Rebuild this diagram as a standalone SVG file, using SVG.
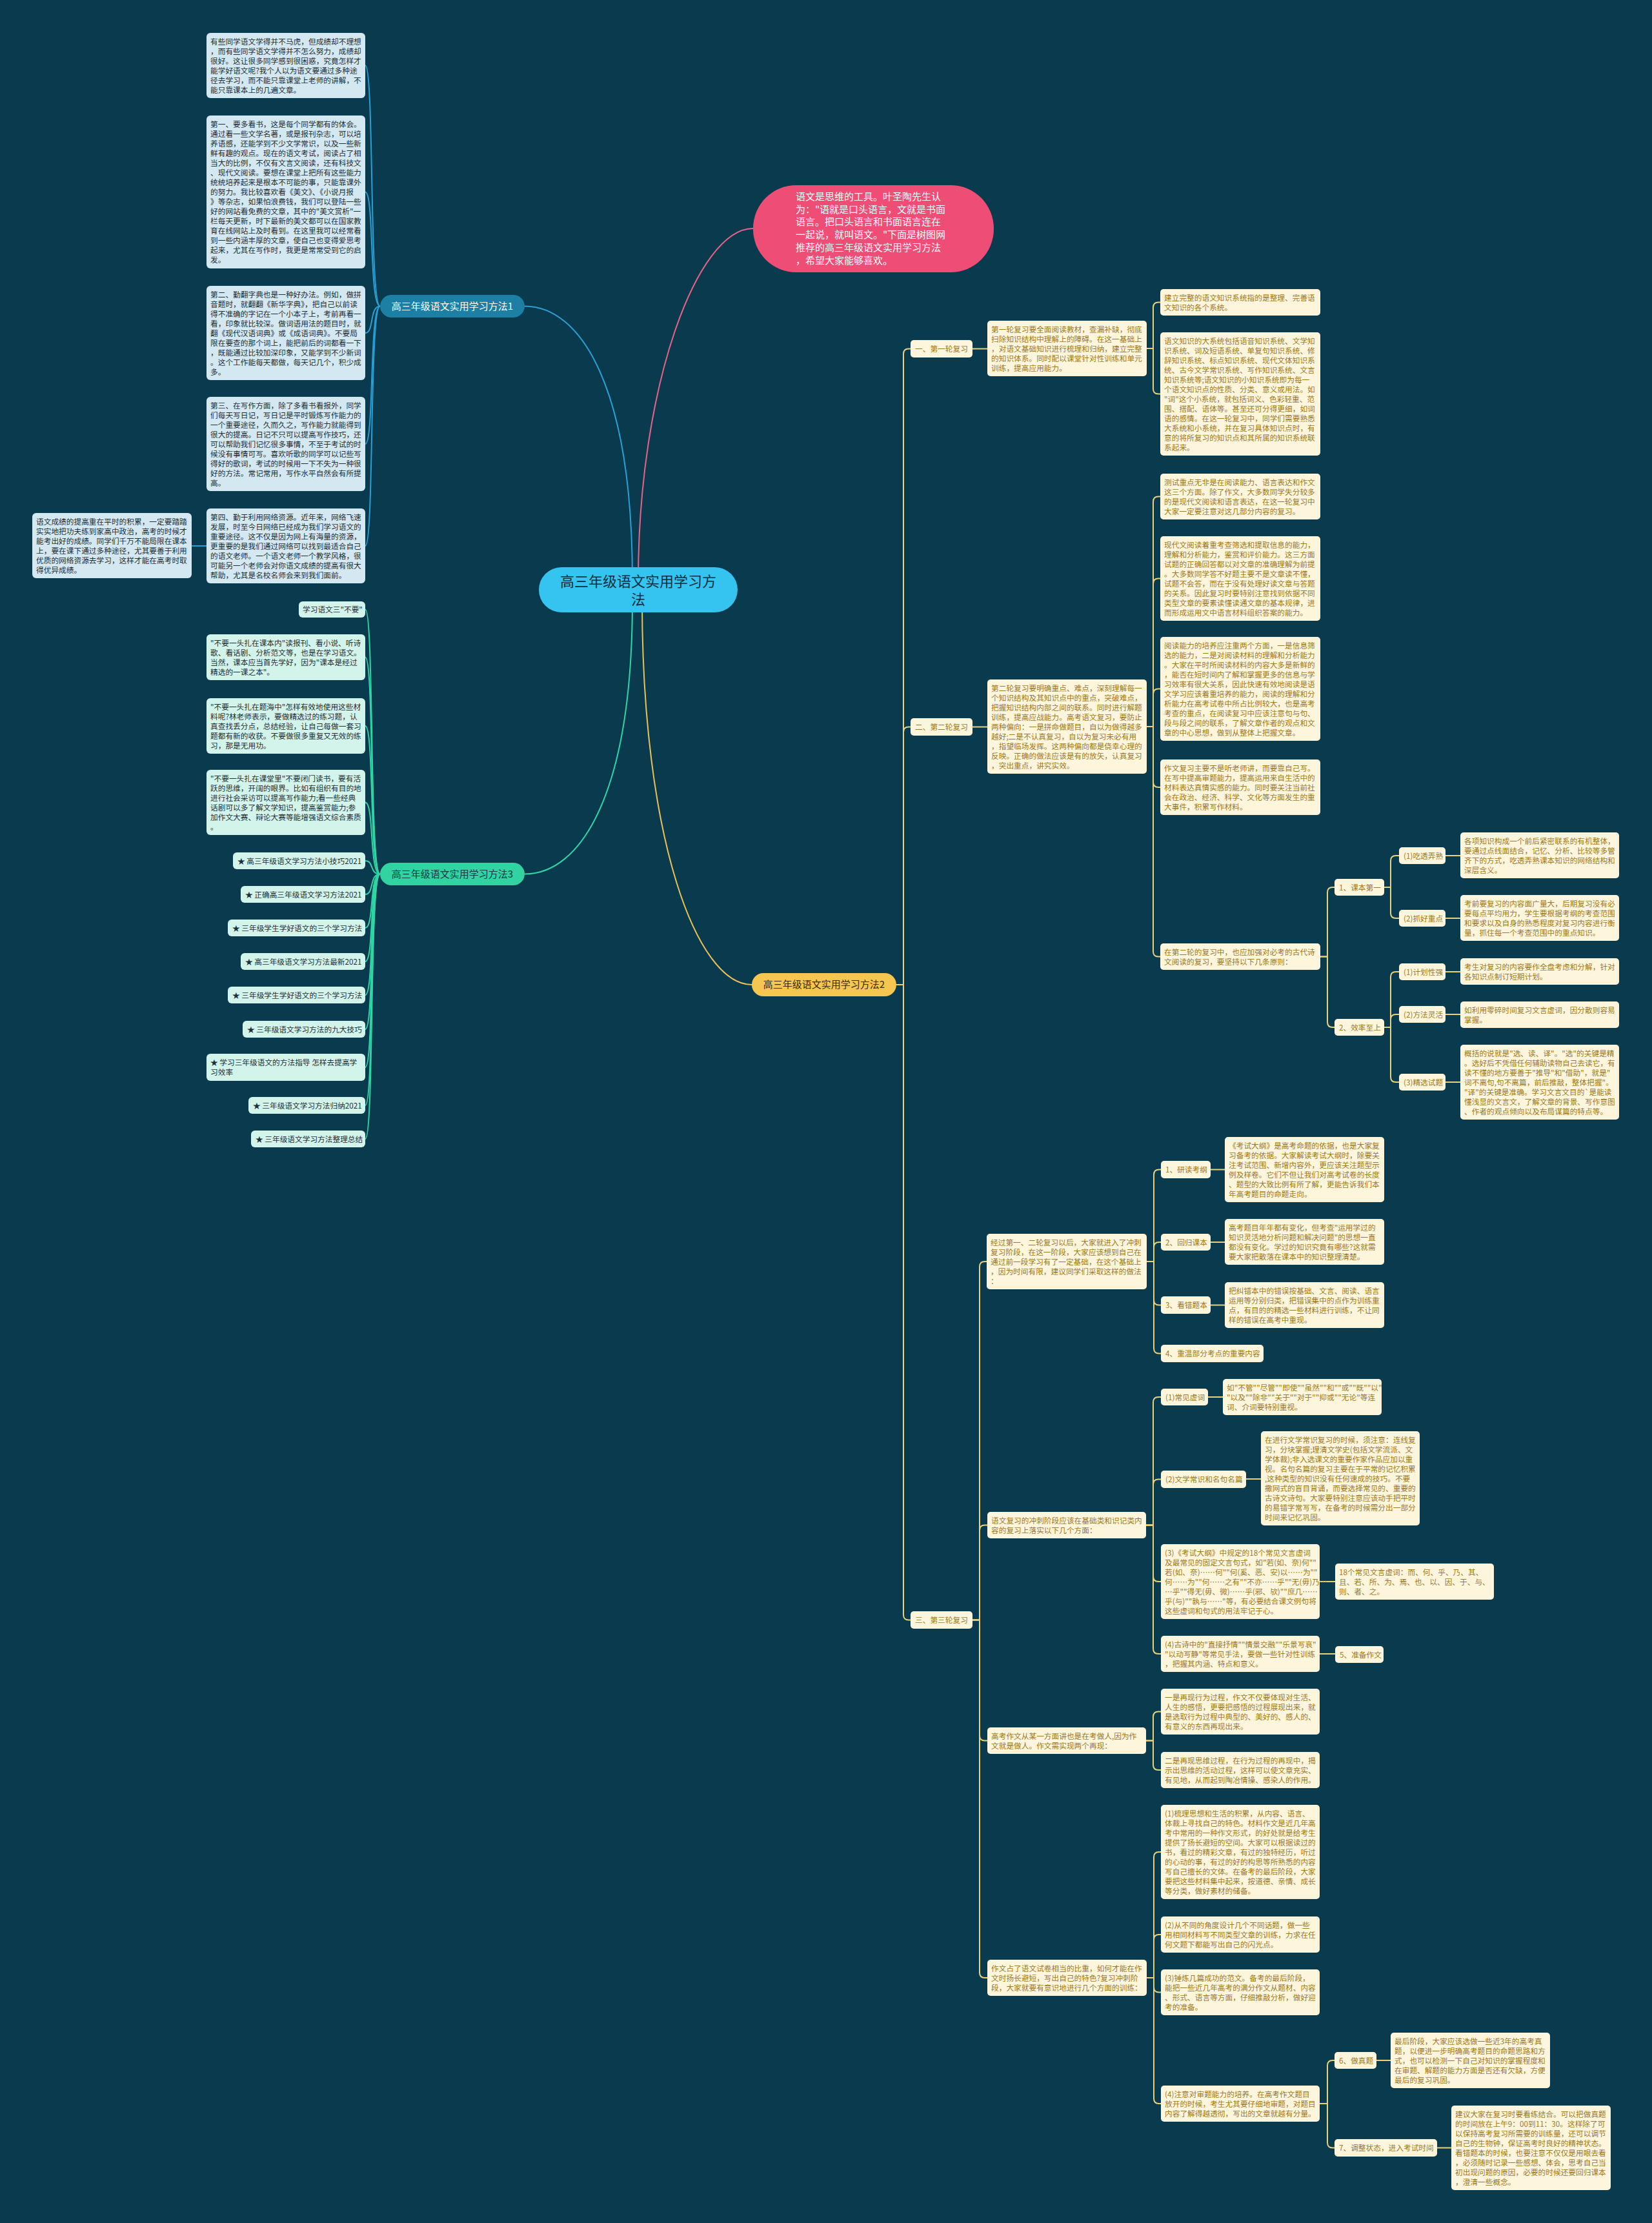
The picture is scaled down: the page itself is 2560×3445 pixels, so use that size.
<svg xmlns="http://www.w3.org/2000/svg" width="2560" height="3445" viewBox="0 0 2560 3445">
<style>
text{font-family:"Noto Sans CJK SC","Noto Sans",sans-serif;}
.ct{font-size:11.7px;fill:#a0781c;}
.lt{font-size:11.7px;fill:#1f2f38;}
.cb{fill:#fdf6dc;}
.lb{fill:#d3e8f0;}
.lg{fill:#d3f4eb;}
.cy{fill:none;stroke:#e9d27c;stroke-width:2;}
.cbl{fill:none;stroke:#2a9fd4;stroke-width:2;}
.cgr{fill:none;stroke:#2fd5a5;stroke-width:2;}
</style>
<rect width="2560" height="3445" fill="#0a3a4d"/>
<g id="connectors">
<path d="M989 900 C989 600 1080 354 1167 354" fill="none" stroke="#e8638a" stroke-width="2"/>
<path d="M980 900 C980 600 900 474.5 813 474.5" class="cbl"/>
<path d="M980 930 C980 1230 900 1354.5 813 1354.5" class="cgr"/>
<path d="M995 930 C995 1300 1080 1526 1165 1526" fill="none" stroke="#e9c35a" stroke-width="2"/>
<path class="cbl" d="M589 474.5 C572 474.5 580 101.5 566 101.5"/>
<path class="cbl" d="M589 474.5 C572 474.5 580 297.5 566 297.5"/>
<path class="cbl" d="M589 474.5 C572 474.5 580 516 566 516"/>
<path class="cbl" d="M589 474.5 C572 474.5 580 688 566 688"/>
<path class="cbl" d="M589 474.5 C572 474.5 580 846 566 846"/>
<path class="cbl" d="M297 846 H320"/>
<path class="cgr" d="M589 1354.5 C572 1354.5 580 944.5 566 944.5"/>
<path class="cgr" d="M589 1354.5 C572 1354.5 580 1018.5 566 1018.5"/>
<path class="cgr" d="M589 1354.5 C572 1354.5 580 1125 566 1125"/>
<path class="cgr" d="M589 1354.5 C572 1354.5 580 1243.5 566 1243.5"/>
<path class="cgr" d="M589 1354.5 C572 1354.5 580 1334 566 1334"/>
<path class="cgr" d="M589 1354.5 C572 1354.5 580 1386 566 1386"/>
<path class="cgr" d="M589 1354.5 C572 1354.5 580 1438 566 1438"/>
<path class="cgr" d="M589 1354.5 C572 1354.5 580 1490 566 1490"/>
<path class="cgr" d="M589 1354.5 C572 1354.5 580 1542 566 1542"/>
<path class="cgr" d="M589 1354.5 C572 1354.5 580 1595 566 1595"/>
<path class="cgr" d="M589 1354.5 C572 1354.5 580 1654 566 1654"/>
<path class="cgr" d="M589 1354.5 C572 1354.5 580 1713 566 1713"/>
<path class="cgr" d="M589 1354.5 C572 1354.5 580 1765 566 1765"/>
<path class="cy" d="M1389 1526 H1400 V548.5 Q1400 540.5 1408 540.5 H1411"/>
<path class="cy" d="M1389 1526 H1400 V1134.5 Q1400 1126.5 1408 1126.5 H1411"/>
<path class="cy" d="M1389 1526 H1400 V2502.5 Q1400 2510.5 1408 2510.5 H1411"/>
<path class="cy" d="M1507 540.5 H1530"/>
<path class="cy" d="M1777 540 H1787 V476.5 Q1787 468.5 1795 468.5 H1798"/>
<path class="cy" d="M1777 540 H1787 V602.5 Q1787 610.5 1795 610.5 H1798"/>
<path class="cy" d="M1507 1126.5 H1530"/>
<path class="cy" d="M1777 1126 H1787 V777.5 Q1787 769.5 1795 769.5 H1798"/>
<path class="cy" d="M1777 1126 H1787 V904.5 Q1787 896.5 1795 896.5 H1798"/>
<path class="cy" d="M1777 1126 H1787 V1075.5 Q1787 1067.5 1795 1067.5 H1798"/>
<path class="cy" d="M1777 1126 H1787 V1212 Q1787 1220 1795 1220 H1798"/>
<path class="cy" d="M1777 1126 H1787 V1474.5 Q1787 1482.5 1795 1482.5 H1798"/>
<path class="cy" d="M2046 1482.5 H2057 V1383 Q2057 1375 2065 1375 H2068"/>
<path class="cy" d="M2046 1482.5 H2057 V1584 Q2057 1592 2065 1592 H2068"/>
<path class="cy" d="M2145 1375 H2155 V1334 Q2155 1326 2163 1326 H2168"/>
<path class="cy" d="M2145 1375 H2155 V1415 Q2155 1423 2163 1423 H2168"/>
<path class="cy" d="M2145 1592 H2155 V1514 Q2155 1506 2163 1506 H2168"/>
<path class="cy" d="M2145 1592 H2155 V1580 Q2155 1572 2163 1572 H2168"/>
<path class="cy" d="M2145 1592 H2155 V1669 Q2155 1677 2163 1677 H2168"/>
<path class="cy" d="M2240 1326 H2263"/>
<path class="cy" d="M2240 1423 H2263"/>
<path class="cy" d="M2240 1506 H2263"/>
<path class="cy" d="M2240 1572 H2263"/>
<path class="cy" d="M2240 1677 H2263"/>
<path class="cy" d="M1507 2510.5 H1518 V1963 Q1518 1955 1526 1955 H1529"/>
<path class="cy" d="M1507 2510.5 H1518 V2371.5 Q1518 2363.5 1526 2363.5 H1530"/>
<path class="cy" d="M1507 2510.5 H1518 V2689.5 Q1518 2697.5 1526 2697.5 H1530"/>
<path class="cy" d="M1507 2510.5 H1518 V3057 Q1518 3065 1526 3065 H1530"/>
<path class="cy" d="M1777 1955 H1788 V1820.5 Q1788 1812.5 1796 1812.5 H1799"/>
<path class="cy" d="M1777 1955 H1788 V1933 Q1788 1925 1796 1925 H1799"/>
<path class="cy" d="M1777 1955 H1788 V2014.5 Q1788 2022.5 1796 2022.5 H1799"/>
<path class="cy" d="M1777 1955 H1788 V2089.5 Q1788 2097.5 1796 2097.5 H1799"/>
<path class="cy" d="M1876 1812.5 H1898"/>
<path class="cy" d="M1876 1925 H1898"/>
<path class="cy" d="M1876 2022.5 H1898"/>
<path class="cy" d="M1776 2363.5 H1787 V2173 Q1787 2165 1795 2165 H1799"/>
<path class="cy" d="M1776 2363.5 H1787 V2300.5 Q1787 2292.5 1795 2292.5 H1799"/>
<path class="cy" d="M1776 2363.5 H1787 V2443 Q1787 2451 1795 2451 H1799"/>
<path class="cy" d="M1776 2363.5 H1787 V2555 Q1787 2563 1795 2563 H1799"/>
<path class="cy" d="M1872 2165 H1895"/>
<path class="cy" d="M1931 2292 H1954"/>
<path class="cy" d="M2045 2451 H2069"/>
<path class="cy" d="M2045 2563 H2069"/>
<path class="cy" d="M1776 2697.5 H1787 V2660.5 Q1787 2652.5 1795 2652.5 H1799"/>
<path class="cy" d="M1776 2697.5 H1787 V2735 Q1787 2743 1795 2743 H1799"/>
<path class="cy" d="M1777 3065 H1788 V2878 Q1788 2870 1796 2870 H1799"/>
<path class="cy" d="M1777 3065 H1788 V3006 Q1788 2998 1796 2998 H1799"/>
<path class="cy" d="M1777 3065 H1788 V3079.5 Q1788 3087.5 1796 3087.5 H1799"/>
<path class="cy" d="M1777 3065 H1788 V3252 Q1788 3260 1796 3260 H1799"/>
<path class="cy" d="M2045 3260 H2057 V3201 Q2057 3193 2065 3193 H2068"/>
<path class="cy" d="M2045 3260 H2057 V3320.5 Q2057 3328.5 2065 3328.5 H2068"/>
<path class="cy" d="M2133 3193 H2155"/>
<path class="cy" d="M2227 3328.5 H2249"/>
</g>
<g id="center"><rect x="835" y="879" width="308" height="70" rx="35" fill="#35c3f0"/><text x="989" y="909" font-size="22" fill="#0b2f40" text-anchor="middle"><tspan x="989">高三年级语文实用学习方</tspan><tspan x="989" dy="28">法</tspan></text></g>
<g id="intro"><rect x="1167" y="287" width="373" height="135" rx="67" fill="#ee4d76"/><text x="1233" y="310" font-size="15" fill="#ffffff"><tspan x="1233">语文是思维的工具。叶圣陶先生认</tspan><tspan x="1233" dy="19.7">为："语就是口头语言，文就是书面</tspan><tspan x="1233" dy="19.7">语言。把口头语言和书面语言连在</tspan><tspan x="1233" dy="19.7">一起说，就叫语文。"下面是树图网</tspan><tspan x="1233" dy="19.7">推荐的高三年级语文实用学习方法</tspan><tspan x="1233" dy="19.7">，希望大家能够喜欢。</tspan></text></g>
<g id="branch1"><rect x="589" y="457" width="224" height="35" rx="17.5" fill="#1c7fa3"/><text x="701" y="480" font-size="15" fill="#ffffff" text-anchor="middle">高三年级语文实用学习方法1</text></g>
<g id="branch3"><rect x="589" y="1337" width="224" height="35" rx="17.5" fill="#31d3a0"/><text x="701" y="1360" font-size="15" fill="#0b3a4d" text-anchor="middle">高三年级语文实用学习方法3</text></g>
<g id="branch2"><rect x="1165" y="1508" width="224" height="36" rx="18" fill="#f5c650"/><text x="1277" y="1531" font-size="15" fill="#3a2c05" text-anchor="middle">高三年级语文实用学习方法2</text></g>

<g id="b1-a"><rect class="lb" x="320" y="51" width="246" height="101" rx="6"/><text class="lt" x="326" y="68.5"><tspan x="326">有些同学语文学得并不马虎，但成绩却不理想</tspan><tspan x="326" dy="15">，而有些同学语文学得并不怎么努力，成绩却</tspan><tspan x="326" dy="15">很好。这让很多同学感到很困惑，究竟怎样才</tspan><tspan x="326" dy="15">能学好语文呢?我个人以为语文要通过多种途</tspan><tspan x="326" dy="15">径去学习，而不能只靠课堂上老师的讲解，不</tspan><tspan x="326" dy="15">能只靠课本上的几遍文章。</tspan></text></g>
<g id="b1-b"><rect class="lb" x="320" y="179" width="246" height="237" rx="6"/><text class="lt" x="326" y="196.5"><tspan x="326">第一、要多看书，这是每个同学都有的体会。</tspan><tspan x="326" dy="15">通过看一些文学名著，或是报刊杂志，可以培</tspan><tspan x="326" dy="15">养语感，还能学到不少文学常识，以及一些新</tspan><tspan x="326" dy="15">鲜有趣的观点。现在的语文考试，阅读占了相</tspan><tspan x="326" dy="15">当大的比例，不仅有文言文阅读，还有科技文</tspan><tspan x="326" dy="15">、现代文阅读。要想在课堂上把所有这些能力</tspan><tspan x="326" dy="15">统统培养起来是根本不可能的事，只能靠课外</tspan><tspan x="326" dy="15">的努力。我比较喜欢看《美文》、《小说月报</tspan><tspan x="326" dy="15">》等杂志，如果怕浪费钱，我们可以登陆一些</tspan><tspan x="326" dy="15">好的网站看免费的文章，其中的"美文赏析"一</tspan><tspan x="326" dy="15">栏每天更新，时下最新的美文都可以在国家教</tspan><tspan x="326" dy="15">育在线网站上及时看到。在这里我可以经常看</tspan><tspan x="326" dy="15">到一些内涵丰厚的文章，使自己也变得爱思考</tspan><tspan x="326" dy="15">起来，尤其在写作时，我更是常常受到它的启</tspan><tspan x="326" dy="15">发。</tspan></text></g>
<g id="b1-c"><rect class="lb" x="320" y="443" width="246" height="146" rx="6"/><text class="lt" x="326" y="460.5"><tspan x="326">第二、勤翻字典也是一种好办法。例如，做拼</tspan><tspan x="326" dy="15">音题时，就翻翻《新华字典》，把自己以前读</tspan><tspan x="326" dy="15">得不准确的字记在一个小本子上，考前再看一</tspan><tspan x="326" dy="15">看，印象就比较深。做词语用法的题目时，就</tspan><tspan x="326" dy="15">翻《现代汉语词典》或《成语词典》。不要局</tspan><tspan x="326" dy="15">限在要查的那个词上，能把前后的词都看一下</tspan><tspan x="326" dy="15">，既能通过比较加深印象，又能学到不少新词</tspan><tspan x="326" dy="15">。这个工作能每天都做，每天记几个，积少成</tspan><tspan x="326" dy="15">多。</tspan></text></g>
<g id="b1-d"><rect class="lb" x="320" y="615" width="246" height="146" rx="6"/><text class="lt" x="326" y="632.5"><tspan x="326">第三、在写作方面，除了多看书看报外，同学</tspan><tspan x="326" dy="15">们每天写日记，写日记是平时锻炼写作能力的</tspan><tspan x="326" dy="15">一个重要途径，久而久之，写作能力就能得到</tspan><tspan x="326" dy="15">很大的提高。日记不只可以提高写作技巧，还</tspan><tspan x="326" dy="15">可以帮助我们记忆很多事情，不至于考试的时</tspan><tspan x="326" dy="15">候没有事情可写。喜欢听歌的同学可以记些写</tspan><tspan x="326" dy="15">得好的歌词，考试的时候用一下不失为一种很</tspan><tspan x="326" dy="15">好的方法。常记常用，写作水平自然会有所提</tspan><tspan x="326" dy="15">高。</tspan></text></g>
<g id="b1-e"><rect class="lb" x="320" y="788" width="246" height="116" rx="6"/><text class="lt" x="326" y="805.5"><tspan x="326">第四、勤于利用网络资源。近年来，网络飞速</tspan><tspan x="326" dy="15">发展，时至今日网络已经成为我们学习语文的</tspan><tspan x="326" dy="15">重要途径。这不仅是因为网上有海量的资源，</tspan><tspan x="326" dy="15">更重要的是我们通过网络可以找到最适合自己</tspan><tspan x="326" dy="15">的语文老师。一个语文老师一个教学风格，很</tspan><tspan x="326" dy="15">可能另一个老师会对你语文成绩的提高有很大</tspan><tspan x="326" dy="15">帮助，尤其是名校名师会来到我们面前。</tspan></text></g>
<g id="b1-s"><rect class="lb" x="50" y="795" width="247" height="101" rx="6"/><text class="lt" x="56" y="812.5"><tspan x="56">语文成绩的提高重在平时的积累，一定要踏踏</tspan><tspan x="56" dy="15">实实地把功夫练到家高中政治，高考的时候才</tspan><tspan x="56" dy="15">能考出好的成绩。同学们千万不能局限在课本</tspan><tspan x="56" dy="15">上，要在课下通过多种途径，尤其要善于利用</tspan><tspan x="56" dy="15">优质的网络资源去学习，这样才能在高考时取</tspan><tspan x="56" dy="15">得优异成绩。</tspan></text></g>

<g id="b3-n0"><rect class="lg" x="463" y="932" width="103" height="25" rx="6"/><text class="lt" x="469" y="949">学习语文三"不要"</text></g>
<g id="b3-1"><rect class="lg" x="320" y="983" width="246" height="71" rx="6"/><text class="lt" x="326" y="1000.5"><tspan x="326">"不要一头扎在课本内"读报刊、看小说、听诗</tspan><tspan x="326" dy="15">歌、看话剧、分析范文等，也是在学习语文。</tspan><tspan x="326" dy="15">当然，课本应当首先学好，因为"课本是经过</tspan><tspan x="326" dy="15">精选的一课之本"。</tspan></text></g>
<g id="b3-2"><rect class="lg" x="320" y="1082" width="246" height="86" rx="6"/><text class="lt" x="326" y="1099.5"><tspan x="326">"不要一头扎在题海中"怎样有效地使用这些材</tspan><tspan x="326" dy="15">料呢?林老师表示，要做精选过的练习题，认</tspan><tspan x="326" dy="15">真查找丢分点，总结经验，让自己每做一套习</tspan><tspan x="326" dy="15">题都有新的收获。不要做很多重复又无效的练</tspan><tspan x="326" dy="15">习，那是无用功。</tspan></text></g>
<g id="b3-3"><rect class="lg" x="320" y="1193" width="246" height="101" rx="6"/><text class="lt" x="326" y="1210.5"><tspan x="326">"不要一头扎在课堂里"不要闭门读书，要有活</tspan><tspan x="326" dy="15">跃的思维，开阔的眼界。比如有组织有目的地</tspan><tspan x="326" dy="15">进行社会采访可以提高写作能力;看一些经典</tspan><tspan x="326" dy="15">话剧可以多了解文学知识，提高鉴赏能力;参</tspan><tspan x="326" dy="15">加作文大赛、辩论大赛等能增强语文综合素质</tspan><tspan x="326" dy="15">。</tspan></text></g>
<g id="b3-l1"><rect class="lg" x="361" y="1321" width="205" height="26" rx="6"/><text class="lt" x="368" y="1339">★ 高三年级语文学习方法小技巧2021</text></g>
<g id="b3-l2"><rect class="lg" x="373" y="1373" width="193" height="26" rx="6"/><text class="lt" x="380" y="1391">★ 正确高三年级语文学习方法2021</text></g>
<g id="b3-l3"><rect class="lg" x="353" y="1425" width="213" height="26" rx="6"/><text class="lt" x="360" y="1443">★ 三年级学生学好语文的三个学习方法</text></g>
<g id="b3-l4"><rect class="lg" x="373" y="1477" width="193" height="26" rx="6"/><text class="lt" x="380" y="1495">★ 高三年级语文学习方法最新2021</text></g>
<g id="b3-l5"><rect class="lg" x="353" y="1529" width="213" height="26" rx="6"/><text class="lt" x="360" y="1547">★ 三年级学生学好语文的三个学习方法</text></g>
<g id="b3-l6"><rect class="lg" x="376" y="1582" width="190" height="26" rx="6"/><text class="lt" x="383" y="1600">★ 三年级语文学习方法的九大技巧</text></g>
<g id="b3-l7"><rect class="lg" x="320" y="1633" width="246" height="42" rx="6"/><text class="lt" x="326" y="1650.5"><tspan x="326">★ 学习三年级语文的方法指导 怎样去提高学</tspan><tspan x="326" dy="15">习效率</tspan></text></g>
<g id="b3-l8"><rect class="lg" x="385" y="1700" width="181" height="26" rx="6"/><text class="lt" x="392" y="1718">★ 三年级语文学习方法归纳2021</text></g>
<g id="b3-l9"><rect class="lg" x="389" y="1752" width="177" height="26" rx="6"/><text class="lt" x="396" y="1770">★ 三年级语文学习方法整理总结</text></g>

<g id="r1"><rect class="cb" x="1411" y="527" width="96" height="27" rx="5"/><text class="ct" x="1418" y="545">一、第一轮复习</text></g>
<g id="r2"><rect class="cb" x="1411" y="1113" width="96" height="27" rx="5"/><text class="ct" x="1418" y="1131">二、第二轮复习</text></g>
<g id="r3"><rect class="cb" x="1411" y="2497" width="96" height="27" rx="5"/><text class="ct" x="1418" y="2515">三、第三轮复习</text></g>

<g id="p1"><rect class="cb" x="1530" y="497" width="247" height="86" rx="5"/><text class="ct" x="1536" y="514.5"><tspan x="1536">第一轮复习要全面阅读教材，查漏补缺，彻底</tspan><tspan x="1536" dy="15">扫除知识结构中理解上的障碍。在这一基础上</tspan><tspan x="1536" dy="15">，对语文基础知识进行梳理和归纳，建立完整</tspan><tspan x="1536" dy="15">的知识体系。同时配以课堂针对性训练和单元</tspan><tspan x="1536" dy="15">训练，提高应用能力。</tspan></text></g>
<g id="c1"><rect class="cb" x="1798" y="448" width="248" height="41" rx="5"/><text class="ct" x="1804" y="465.5"><tspan x="1804">建立完整的语文知识系统指的是整理、完善语</tspan><tspan x="1804" dy="15">文知识的各个系统。</tspan></text></g>
<g id="c2"><rect class="cb" x="1798" y="515" width="248" height="191" rx="5"/><text class="ct" x="1804" y="532.5"><tspan x="1804">语文知识的大系统包括语音知识系统、文学知</tspan><tspan x="1804" dy="15">识系统、词及短语系统、单复句知识系统、修</tspan><tspan x="1804" dy="15">辞知识系统、标点知识系统、现代文体知识系</tspan><tspan x="1804" dy="15">统、古今文学常识系统、写作知识系统、文言</tspan><tspan x="1804" dy="15">知识系统等;语文知识的小知识系统即为每一</tspan><tspan x="1804" dy="15">个语文知识点的性质、分类、意义或用法。如</tspan><tspan x="1804" dy="15">"词"这个小系统，就包括词义、色彩轻重、范</tspan><tspan x="1804" dy="15">围、搭配、语体等。甚至还可分得更细，如词</tspan><tspan x="1804" dy="15">语的感情。在这一轮复习中，同学们需要熟悉</tspan><tspan x="1804" dy="15">大系统和小系统，并在复习具体知识点时，有</tspan><tspan x="1804" dy="15">意的将所复习的知识点和其所属的知识系统联</tspan><tspan x="1804" dy="15">系起来。</tspan></text></g>

<g id="p2"><rect class="cb" x="1530" y="1053" width="247" height="146" rx="5"/><text class="ct" x="1536" y="1070.5"><tspan x="1536">第二轮复习要明确重点、难点，深刻理解每一</tspan><tspan x="1536" dy="15">个知识结构及其知识点中的重点，突破难点，</tspan><tspan x="1536" dy="15">把握知识结构内部之间的联系。同时进行解题</tspan><tspan x="1536" dy="15">训练，提高应战能力。高考语文复习，要防止</tspan><tspan x="1536" dy="15">两种偏向：一是拼命做题目，自以为做得越多</tspan><tspan x="1536" dy="15">越好;二是不认真复习，自以为复习未必有用</tspan><tspan x="1536" dy="15">，指望临场发挥。这两种偏向都是侥幸心理的</tspan><tspan x="1536" dy="15">反映。正确的做法应该是有的放矢，认真复习</tspan><tspan x="1536" dy="15">，突出重点，讲究实效。</tspan></text></g>
<g id="d1"><rect class="cb" x="1798" y="734" width="248" height="71" rx="5"/><text class="ct" x="1804" y="751.5"><tspan x="1804">测试重点无非是在阅读能力、语言表达和作文</tspan><tspan x="1804" dy="15">这三个方面。除了作文，大多数同学失分较多</tspan><tspan x="1804" dy="15">的是现代文阅读和语言表达，在这一轮复习中</tspan><tspan x="1804" dy="15">大家一定要注意对这几部分内容的复习。</tspan></text></g>
<g id="d2"><rect class="cb" x="1798" y="831" width="248" height="131" rx="5"/><text class="ct" x="1804" y="848.5"><tspan x="1804">现代文阅读着重考查筛选和提取信息的能力，</tspan><tspan x="1804" dy="15">理解和分析能力，鉴赏和评价能力。这三方面</tspan><tspan x="1804" dy="15">试题的正确回答都以对文章的准确理解为前提</tspan><tspan x="1804" dy="15">。大多数同学答不好题主要不是文章读不懂，</tspan><tspan x="1804" dy="15">试题不会答，而在于没有处理好读文章与答题</tspan><tspan x="1804" dy="15">的关系。因此复习时要特别注意找到依据不同</tspan><tspan x="1804" dy="15">类型文章的要素读懂读通文章的基本规律，进</tspan><tspan x="1804" dy="15">而形成运用文中语言材料组织答案的能力。</tspan></text></g>
<g id="d3"><rect class="cb" x="1798" y="987" width="248" height="161" rx="5"/><text class="ct" x="1804" y="1004.5"><tspan x="1804">阅读能力的培养应注重两个方面，一是信息筛</tspan><tspan x="1804" dy="15">选的能力，二是对阅读材料的理解和分析能力</tspan><tspan x="1804" dy="15">。大家在平时所阅读材料的内容大多是新鲜的</tspan><tspan x="1804" dy="15">，能否在短时间内了解和掌握更多的信息与学</tspan><tspan x="1804" dy="15">习效率有很大关系，因此快速有效地阅读是语</tspan><tspan x="1804" dy="15">文学习应该着重培养的能力，阅读的理解和分</tspan><tspan x="1804" dy="15">析能力在高考试卷中所占比例较大，也是高考</tspan><tspan x="1804" dy="15">考查的重点，在阅读复习中应该注意句与句、</tspan><tspan x="1804" dy="15">段与段之间的联系，了解文章作者的观点和文</tspan><tspan x="1804" dy="15">章的中心思想，做到从整体上把握文章。</tspan></text></g>
<g id="d4"><rect class="cb" x="1798" y="1177" width="248" height="86" rx="5"/><text class="ct" x="1804" y="1194.5"><tspan x="1804">作文复习主要不是听老师讲，而要靠自己写。</tspan><tspan x="1804" dy="15">在写中提高审题能力，提高运用来自生活中的</tspan><tspan x="1804" dy="15">材料表达真情实感的能力。同时要关注当前社</tspan><tspan x="1804" dy="15">会在政治、经济、科学、文化等方面发生的重</tspan><tspan x="1804" dy="15">大事件，积累写作材料。</tspan></text></g>
<g id="d5"><rect class="cb" x="1798" y="1462" width="248" height="41" rx="5"/><text class="ct" x="1804" y="1479.5"><tspan x="1804">在第二轮的复习中，也应加强对必考的古代诗</tspan><tspan x="1804" dy="15">文阅读的复习，要坚持以下几条原则：</tspan></text></g>
<g id="k1"><rect class="cb" x="2068" y="1362" width="77" height="26" rx="5"/><text class="ct" x="2075" y="1380">1、课本第一</text></g>
<g id="k2"><rect class="cb" x="2068" y="1579" width="77" height="26" rx="5"/><text class="ct" x="2075" y="1597">2、效率至上</text></g>
<g id="k11"><rect class="cb" x="2168" y="1313" width="72" height="26" rx="5"/><text class="ct" x="2175" y="1331">(1)吃透弄熟</text></g>
<g id="k12"><rect class="cb" x="2168" y="1410" width="72" height="26" rx="5"/><text class="ct" x="2175" y="1428">(2)抓好重点</text></g>
<g id="k21"><rect class="cb" x="2168" y="1493" width="72" height="26" rx="5"/><text class="ct" x="2175" y="1511">(1)计划性强</text></g>
<g id="k22"><rect class="cb" x="2168" y="1559" width="72" height="26" rx="5"/><text class="ct" x="2175" y="1577">(2)方法灵活</text></g>
<g id="k23"><rect class="cb" x="2168" y="1664" width="72" height="26" rx="5"/><text class="ct" x="2175" y="1682">(3)精选试题</text></g>
<g id="e1"><rect class="cb" x="2263" y="1290" width="246" height="71" rx="5"/><text class="ct" x="2269" y="1307.5"><tspan x="2269">各项知识构成一个前后紧密联系的有机整体，</tspan><tspan x="2269" dy="15">要通过点线面结合，记忆、分析、比较等多管</tspan><tspan x="2269" dy="15">齐下的方式，吃透弄熟课本知识的网络结构和</tspan><tspan x="2269" dy="15">深层含义。</tspan></text></g>
<g id="e2"><rect class="cb" x="2263" y="1387" width="246" height="71" rx="5"/><text class="ct" x="2269" y="1404.5"><tspan x="2269">考前要复习的内容面广量大，后期复习没有必</tspan><tspan x="2269" dy="15">要每点平均用力，学生要根据考纲的考查范围</tspan><tspan x="2269" dy="15">和要求以及自身的熟悉程度对复习内容进行衡</tspan><tspan x="2269" dy="15">量，抓住每一个考查范围中的重点知识。</tspan></text></g>
<g id="e3"><rect class="cb" x="2263" y="1485" width="246" height="41" rx="5"/><text class="ct" x="2269" y="1502.5"><tspan x="2269">考生对复习的内容要作全盘考虑和分解，针对</tspan><tspan x="2269" dy="15">各知识点制订短期计划。</tspan></text></g>
<g id="e4"><rect class="cb" x="2263" y="1552" width="246" height="41" rx="5"/><text class="ct" x="2269" y="1569.5"><tspan x="2269">如利用零碎时间复习文言虚词，因分散则容易</tspan><tspan x="2269" dy="15">掌握。</tspan></text></g>
<g id="e5"><rect class="cb" x="2263" y="1619" width="246" height="116" rx="5"/><text class="ct" x="2269" y="1636.5"><tspan x="2269">概括的说就是"选、读、译"。"选"的关键是精</tspan><tspan x="2269" dy="15">。选好后不凭借任何辅助读物自己去读它，有</tspan><tspan x="2269" dy="15">读不懂的地方要善于"推导"和"借助"，就是"</tspan><tspan x="2269" dy="15">词不离句,句不离篇，前后推敲，整体把握"。</tspan><tspan x="2269" dy="15">"译"的关键是准确。学习文言文目的`是能读</tspan><tspan x="2269" dy="15">懂浅显的文言文，了解文章的背景、写作意图</tspan><tspan x="2269" dy="15">、作者的观点倾向以及布局谋篇的特点等。</tspan></text></g>

<g id="f0"><rect class="cb" x="1529" y="1912" width="248" height="86" rx="5"/><text class="ct" x="1535" y="1929.5"><tspan x="1535">经过第一、二轮复习以后，大家就进入了冲刺</tspan><tspan x="1535" dy="15">复习阶段，在这一阶段，大家应该想到自己在</tspan><tspan x="1535" dy="15">通过前一段学习有了一定基础，在这个基础上</tspan><tspan x="1535" dy="15">，因为时间有限，建议同学们采取这样的做法</tspan><tspan x="1535" dy="15">：</tspan></text></g>
<g id="f1n"><rect class="cb" x="1799" y="1799" width="77" height="27" rx="5"/><text class="ct" x="1806" y="1817">1、研读考纲</text></g>
<g id="f2n"><rect class="cb" x="1799" y="1912" width="77" height="26" rx="5"/><text class="ct" x="1806" y="1930">2、回归课本</text></g>
<g id="f3n"><rect class="cb" x="1799" y="2009" width="77" height="27" rx="5"/><text class="ct" x="1806" y="2027">3、看错题本</text></g>
<g id="f4n"><rect class="cb" x="1799" y="2084" width="159" height="27" rx="5"/><text class="ct" x="1806" y="2102">4、重温部分考点的重要内容</text></g>
<g id="f1"><rect class="cb" x="1898" y="1762" width="247" height="101" rx="5"/><text class="ct" x="1904" y="1779.5"><tspan x="1904">《考试大纲》是高考命题的依据，也是大家复</tspan><tspan x="1904" dy="15">习备考的依据。大家解读考试大纲时，除要关</tspan><tspan x="1904" dy="15">注考试范围、新增内容外，更应该关注题型示</tspan><tspan x="1904" dy="15">例及样卷。它们不但让我们对高考试卷的长度</tspan><tspan x="1904" dy="15">、题型的大致比例有所了解，更能告诉我们本</tspan><tspan x="1904" dy="15">年高考题目的命题走向。</tspan></text></g>
<g id="f2"><rect class="cb" x="1898" y="1889" width="247" height="71" rx="5"/><text class="ct" x="1904" y="1906.5"><tspan x="1904">高考题目年年都有变化，但考查"运用学过的</tspan><tspan x="1904" dy="15">知识灵活地分析问题和解决问题"的思想一直</tspan><tspan x="1904" dy="15">都没有变化。学过的知识究竟有哪些?这就需</tspan><tspan x="1904" dy="15">要大家把散落在课本中的知识整理清楚。</tspan></text></g>
<g id="f3"><rect class="cb" x="1898" y="1987" width="247" height="71" rx="5"/><text class="ct" x="1904" y="2004.5"><tspan x="1904">把纠错本中的错误按基础、文言、阅读、语言</tspan><tspan x="1904" dy="15">运用等分别归类，把错误集中的点作为训练重</tspan><tspan x="1904" dy="15">点，有目的的精选一些材料进行训练，不让同</tspan><tspan x="1904" dy="15">样的错误在高考中重现。</tspan></text></g>

<g id="g0"><rect class="cb" x="1530" y="2343" width="246" height="41" rx="5"/><text class="ct" x="1536" y="2360.5"><tspan x="1536">语文复习的冲刺阶段应该在基础类和识记类内</tspan><tspan x="1536" dy="15">容的复习上落实以下几个方面：</tspan></text></g>
<g id="g1n"><rect class="cb" x="1799" y="2152" width="73" height="26" rx="5"/><text class="ct" x="1806" y="2170">(1)常见虚词</text></g>
<g id="g1"><rect class="cb" x="1895" y="2137" width="246" height="56" rx="5"/><text class="ct" x="1901" y="2154.5"><tspan x="1901">如"不管""尽管""即使""虽然""和""或""既""以"</tspan><tspan x="1901" dy="15">"以及""除非""关于""对于""抑或""无论"等连</tspan><tspan x="1901" dy="15">词、介词要特别重视。</tspan></text></g>
<g id="g2n"><rect class="cb" x="1799" y="2279" width="132" height="27" rx="5"/><text class="ct" x="1806" y="2297">(2)文学常识和名句名篇</text></g>
<g id="g2"><rect class="cb" x="1954" y="2218" width="246" height="146" rx="5"/><text class="ct" x="1960" y="2235.5"><tspan x="1960">在进行文学常识复习的时候，须注意：连线复</tspan><tspan x="1960" dy="15">习，分块掌握;理清文学史(包括文学流派、文</tspan><tspan x="1960" dy="15">学体裁);非入选课文的重要作家作品应加以重</tspan><tspan x="1960" dy="15">视。名句名篇的复习主要在于平常的记忆积累</tspan><tspan x="1960" dy="15">,这种类型的知识没有任何速成的技巧。不要</tspan><tspan x="1960" dy="15">撒网式的盲目背诵，而要选择常见的、重要的</tspan><tspan x="1960" dy="15">古诗文诗句。大家要特别注意应该动手把平时</tspan><tspan x="1960" dy="15">的易错字常写写，在备考的时候需分出一部分</tspan><tspan x="1960" dy="15">时间来记忆巩固。</tspan></text></g>
<g id="g3"><rect class="cb" x="1799" y="2393" width="246" height="116" rx="5"/><text class="ct" x="1805" y="2410.5"><tspan x="1805">(3)《考试大纲》中规定的18个常见文言虚词</tspan><tspan x="1805" dy="15">及最常见的固定文言句式，如"若(如、奈)何""</tspan><tspan x="1805" dy="15">若(如、奈)……何""何(奚、恶、安)以……为""</tspan><tspan x="1805" dy="15">何……为""何……之有""不亦……乎""无(毋)乃…</tspan><tspan x="1805" dy="15">…乎""得无(毋、微)……乎(邪、欤)""庶几……</tspan><tspan x="1805" dy="15">乎(与)""孰与……"等，有必要结合课文例句将</tspan><tspan x="1805" dy="15">这些虚词和句式的用法牢记于心。</tspan></text></g>
<g id="g3a"><rect class="cb" x="2069" y="2423" width="246" height="56" rx="5"/><text class="ct" x="2075" y="2440.5"><tspan x="2075">18个常见文言虚词：而、何、乎、乃、其、</tspan><tspan x="2075" dy="15">且、若、所、为、焉、也、以、因、于、与、</tspan><tspan x="2075" dy="15">则、者、之。</tspan></text></g>
<g id="g4"><rect class="cb" x="1799" y="2535" width="246" height="56" rx="5"/><text class="ct" x="1805" y="2552.5"><tspan x="1805">(4)古诗中的"直接抒情""情景交融""乐景写哀"</tspan><tspan x="1805" dy="15">"以动写静"等常见手法，要做一些针对性训练</tspan><tspan x="1805" dy="15">，把握其内涵、特点和意义。</tspan></text></g>
<g id="g5"><rect class="cb" x="2069" y="2551" width="75" height="26" rx="5"/><text class="ct" x="2076" y="2569">5、准备作文</text></g>

<g id="h0"><rect class="cb" x="1530" y="2677" width="246" height="41" rx="5"/><text class="ct" x="1536" y="2694.5"><tspan x="1536">高考作文从某一方面讲也是在考做人,因为作</tspan><tspan x="1536" dy="15">文就是做人。作文需实现两个再现：</tspan></text></g>
<g id="h1"><rect class="cb" x="1799" y="2617" width="246" height="71" rx="5"/><text class="ct" x="1805" y="2634.5"><tspan x="1805">一是再现行为过程，作文不仅要体现对生活、</tspan><tspan x="1805" dy="15">人生的感悟，更要把感悟的过程展现出来，就</tspan><tspan x="1805" dy="15">是选取行为过程中典型的、美好的、感人的、</tspan><tspan x="1805" dy="15">有意义的东西再现出来。</tspan></text></g>
<g id="h2"><rect class="cb" x="1799" y="2715" width="246" height="56" rx="5"/><text class="ct" x="1805" y="2732.5"><tspan x="1805">二是再现思维过程，在行为过程的再现中，揭</tspan><tspan x="1805" dy="15">示出思维的活动过程，这样可以使文章充实、</tspan><tspan x="1805" dy="15">有见地，从而起到陶冶情操、感染人的作用。</tspan></text></g>

<g id="i0"><rect class="cb" x="1530" y="3037" width="247" height="56" rx="5"/><text class="ct" x="1536" y="3054.5"><tspan x="1536">作文占了语文试卷相当的比重，如何才能在作</tspan><tspan x="1536" dy="15">文时扬长避短，写出自己的特色?复习冲刺阶</tspan><tspan x="1536" dy="15">段，大家就要有意识地进行几个方面的训练：</tspan></text></g>
<g id="i1"><rect class="cb" x="1799" y="2797" width="246" height="146" rx="5"/><text class="ct" x="1805" y="2814.5"><tspan x="1805">(1)梳理思想和生活的积累，从内容、语言、</tspan><tspan x="1805" dy="15">体裁上寻找自己的特色。材料作文是近几年高</tspan><tspan x="1805" dy="15">考中常用的一种作文形式，的好处就是给考生</tspan><tspan x="1805" dy="15">提供了扬长避短的空间。大家可以根据读过的</tspan><tspan x="1805" dy="15">书，看过的精彩文章，有过的独特经历，听过</tspan><tspan x="1805" dy="15">的心动的事，有过的好的构思等所熟悉的内容</tspan><tspan x="1805" dy="15">写自己擅长的文体。在备考的最后阶段，大家</tspan><tspan x="1805" dy="15">要把这些材料集中起来，按道德、亲情、成长</tspan><tspan x="1805" dy="15">等分类，做好素材的储备。</tspan></text></g>
<g id="i2"><rect class="cb" x="1799" y="2970" width="246" height="56" rx="5"/><text class="ct" x="1805" y="2987.5"><tspan x="1805">(2)从不同的角度设计几个不同话题，做一些</tspan><tspan x="1805" dy="15">用相同材料写不同类型文章的训练，力求在任</tspan><tspan x="1805" dy="15">何文题下都能写出自己的闪光点。</tspan></text></g>
<g id="i3"><rect class="cb" x="1799" y="3052" width="246" height="71" rx="5"/><text class="ct" x="1805" y="3069.5"><tspan x="1805">(3)锤炼几篇成功的范文。备考的最后阶段，</tspan><tspan x="1805" dy="15">能把一些近几年高考的满分作文从题材、内容</tspan><tspan x="1805" dy="15">、形式、语言等方面，仔细推敲分析，做好迎</tspan><tspan x="1805" dy="15">考的准备。</tspan></text></g>
<g id="i4"><rect class="cb" x="1799" y="3232" width="246" height="56" rx="5"/><text class="ct" x="1805" y="3249.5"><tspan x="1805">(4)注意对审题能力的培养。在高考作文题目</tspan><tspan x="1805" dy="15">放开的时候，考生尤其要仔细地审题，对题目</tspan><tspan x="1805" dy="15">内容了解得越透彻，写出的文章就越有分量。</tspan></text></g>
<g id="j6n"><rect class="cb" x="2068" y="3180" width="65" height="26" rx="5"/><text class="ct" x="2075" y="3198">6、做真题</text></g>
<g id="j7n"><rect class="cb" x="2068" y="3315" width="159" height="27" rx="5"/><text class="ct" x="2075" y="3333">7、调整状态，进入考试时间</text></g>
<g id="j1"><rect class="cb" x="2155" y="3150" width="247" height="86" rx="5"/><text class="ct" x="2161" y="3167.5"><tspan x="2161">最后阶段，大家应该选做一些近3年的高考真</tspan><tspan x="2161" dy="15">题，以便进一步明确高考题目的命题思路和方</tspan><tspan x="2161" dy="15">式，也可以检测一下自己对知识的掌握程度和</tspan><tspan x="2161" dy="15">在审题、解题的能力方面是否还有欠缺，方便</tspan><tspan x="2161" dy="15">最后的复习巩固。</tspan></text></g>
<g id="j2"><rect class="cb" x="2249" y="3263" width="247" height="131" rx="5"/><text class="ct" x="2255" y="3280.5"><tspan x="2255">建议大家在复习时要看练结合。可以把做真题</tspan><tspan x="2255" dy="15">的时间放在上午9：00到11：30。这样除了可</tspan><tspan x="2255" dy="15">以保持高考复习所需要的训练量，还可以调节</tspan><tspan x="2255" dy="15">自己的生物钟，保证高考时良好的精神状态。</tspan><tspan x="2255" dy="15">看错题本的时候，也要注意不仅仅是用眼去看</tspan><tspan x="2255" dy="15">，必须随时记录一些感想、体会，思考自己当</tspan><tspan x="2255" dy="15">初出现问题的原因，必要的时候还要回归课本</tspan><tspan x="2255" dy="15">，澄清一些概念。</tspan></text></g>
</svg>
